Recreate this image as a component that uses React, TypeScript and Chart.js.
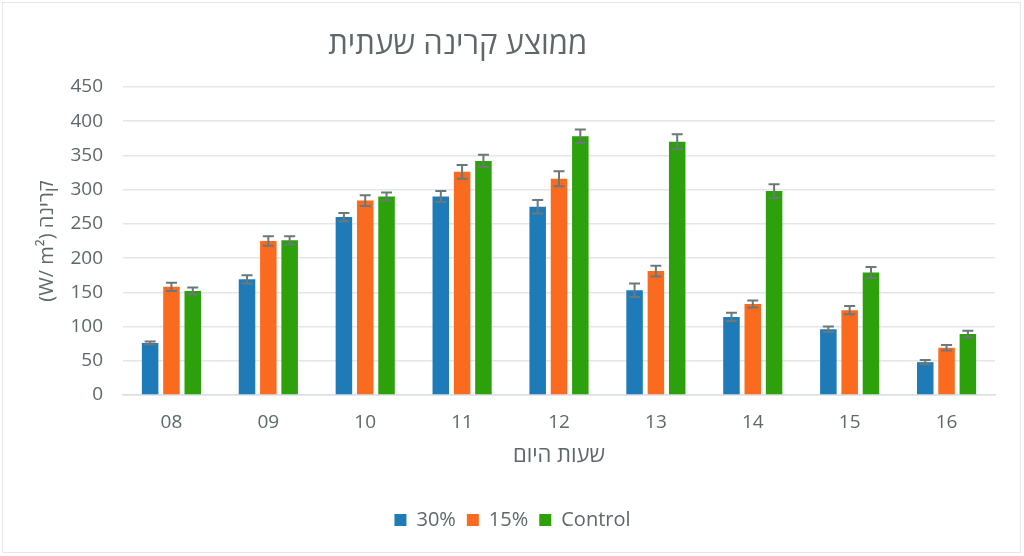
import React, { useEffect, useRef } from "react";
import { Chart, registerables } from "chart.js";

Chart.register(...registerables);

const categories = ["08", "09", "10", "11", "12", "13", "14", "15", "16"];
const series30 = [76, 169, 260, 290, 275, 153, 114, 96, 48];
const series15 = [158, 225, 284, 326, 316, 181, 133, 124, 69];
const seriesControl = [152, 226, 290, 342, 378, 370, 298, 179, 89];
const err30 = [2, 6, 6, 8, 10, 10, 6, 4, 3];
const err15 = [6, 7, 8, 10, 11, 8, 5, 6, 4];
const errControl = [5, 6, 6, 9, 10, 11, 10, 8, 5];
const yTicks = [0, 50, 100, 150, 200, 250, 300, 350, 400, 450];

const titleText = "ממוצע קרינה שעתית";
const yTitle = "(W/ m²) קרינה";
const xTitle = "שעות היום";

const FONT = "'Open Sans', 'Noto Sans', 'DejaVu Sans', sans-serif";
const TEXT = "#5e6769";

const errorBarPlugin = {
  id: "errorBars",
  afterDatasetsDraw(chart: any) {
    const ctx = chart.ctx;
    const y = chart.scales.y;
    chart.data.datasets.forEach((ds: any, i: number) => {
      const meta = chart.getDatasetMeta(i);
      if (meta.hidden) return;
      meta.data.forEach((el: any, j: number) => {
        const v = ds.data[j];
        const e = ds.errors[j];
        const top = y.getPixelForValue(v + e);
        const bot = y.getPixelForValue(v - e);
        const x = el.x;
        const cap = 5.5;
        ctx.save();
        ctx.strokeStyle = "#6b7878";
        ctx.lineWidth = 2;
        ctx.beginPath();
        ctx.moveTo(x, top);
        ctx.lineTo(x, bot);
        ctx.moveTo(x - cap, top);
        ctx.lineTo(x + cap, top);
        ctx.moveTo(x - cap, bot);
        ctx.lineTo(x + cap, bot);
        ctx.stroke();
        ctx.restore();
      });
    });
  },
};

const titlePlugin = {
  id: "customTitle",
  afterDraw(chart: any) {
    const ctx = chart.ctx;
    ctx.save();
    ctx.font = `31px ${FONT}`;
    ctx.fillStyle = TEXT;
    ctx.textAlign = "center";
    ctx.textBaseline = "middle";
    ctx.fillText(titleText, chart.width * 0.447, 45);
    ctx.restore();
  },
};

export default function App() {
  const ref = useRef<HTMLCanvasElement>(null);

  useEffect(() => {
    if (!ref.current) return;
    const chart = new Chart(ref.current, {
      type: "bar",
      data: {
        labels: categories,
        datasets: [
          { label: "30%", data: series30, errors: err30, backgroundColor: "#1f7bb8" } as any,
          { label: "15%", data: series15, errors: err15, backgroundColor: "#fb6b1f" } as any,
          { label: "Control", data: seriesControl, errors: errControl, backgroundColor: "#2ca10b" } as any,
        ],
      },
      options: {
        responsive: false,
        animation: false,
        layout: { padding: { left: 30, right: 29, top: 87, bottom: 16 } },
        datasets: { bar: { categoryPercentage: 0.66, barPercentage: 0.775 } },
        plugins: {
          title: { display: false },
          tooltip: { enabled: false },
          legend: {
            position: "bottom",
            labels: {
              color: TEXT,
              font: { family: FONT, size: 20 },
              boxWidth: 12,
              boxHeight: 12,
              padding: 11,
            },
          },
        },
        scales: {
          x: {
            grid: { display: false, drawTicks: false },
            border: { display: true, color: "#d9dfe3", width: 1.5 },
            ticks: { color: TEXT, font: { family: FONT, size: 19 }, padding: 16 },
            title: { display: true, text: xTitle, color: TEXT, font: { family: FONT, size: 22 }, padding: { top: 0, bottom: 30 } },
            afterFit: (s: any) => { s.height = 104; },
          },
          y: {
            min: 0,
            max: 450,
            afterBuildTicks: (s: any) => { s.ticks = yTicks.map((v) => ({ value: v })); },
            grid: { color: "#e3e6e8", lineWidth: 1.5, drawTicks: false },
            border: { display: false },
            ticks: { color: TEXT, font: { family: FONT, size: 19 }, padding: 20 },
            title: { display: true, text: yTitle, color: TEXT, font: { family: FONT, size: 20 }, padding: { top: 5, bottom: 0 } },
            afterFit: (s: any) => { s.width = 93; },
          },
        },
      } as any,
      plugins: [errorBarPlugin, titlePlugin],
    });
    return () => chart.destroy();
  }, []);

  return (
    <div style={{ position: "fixed", left: 0, top: 0, width: 1024, height: 556, background: "#fff" }}>
      <canvas ref={ref} width={1024} height={556} style={{ display: "block" }} />
      <div
        style={{
          position: "absolute",
          left: 2,
          top: 2,
          width: 1017,
          height: 549,
          border: "1px solid #e4e8e9",
          pointerEvents: "none",
        }}
      />
    </div>
  );
}
